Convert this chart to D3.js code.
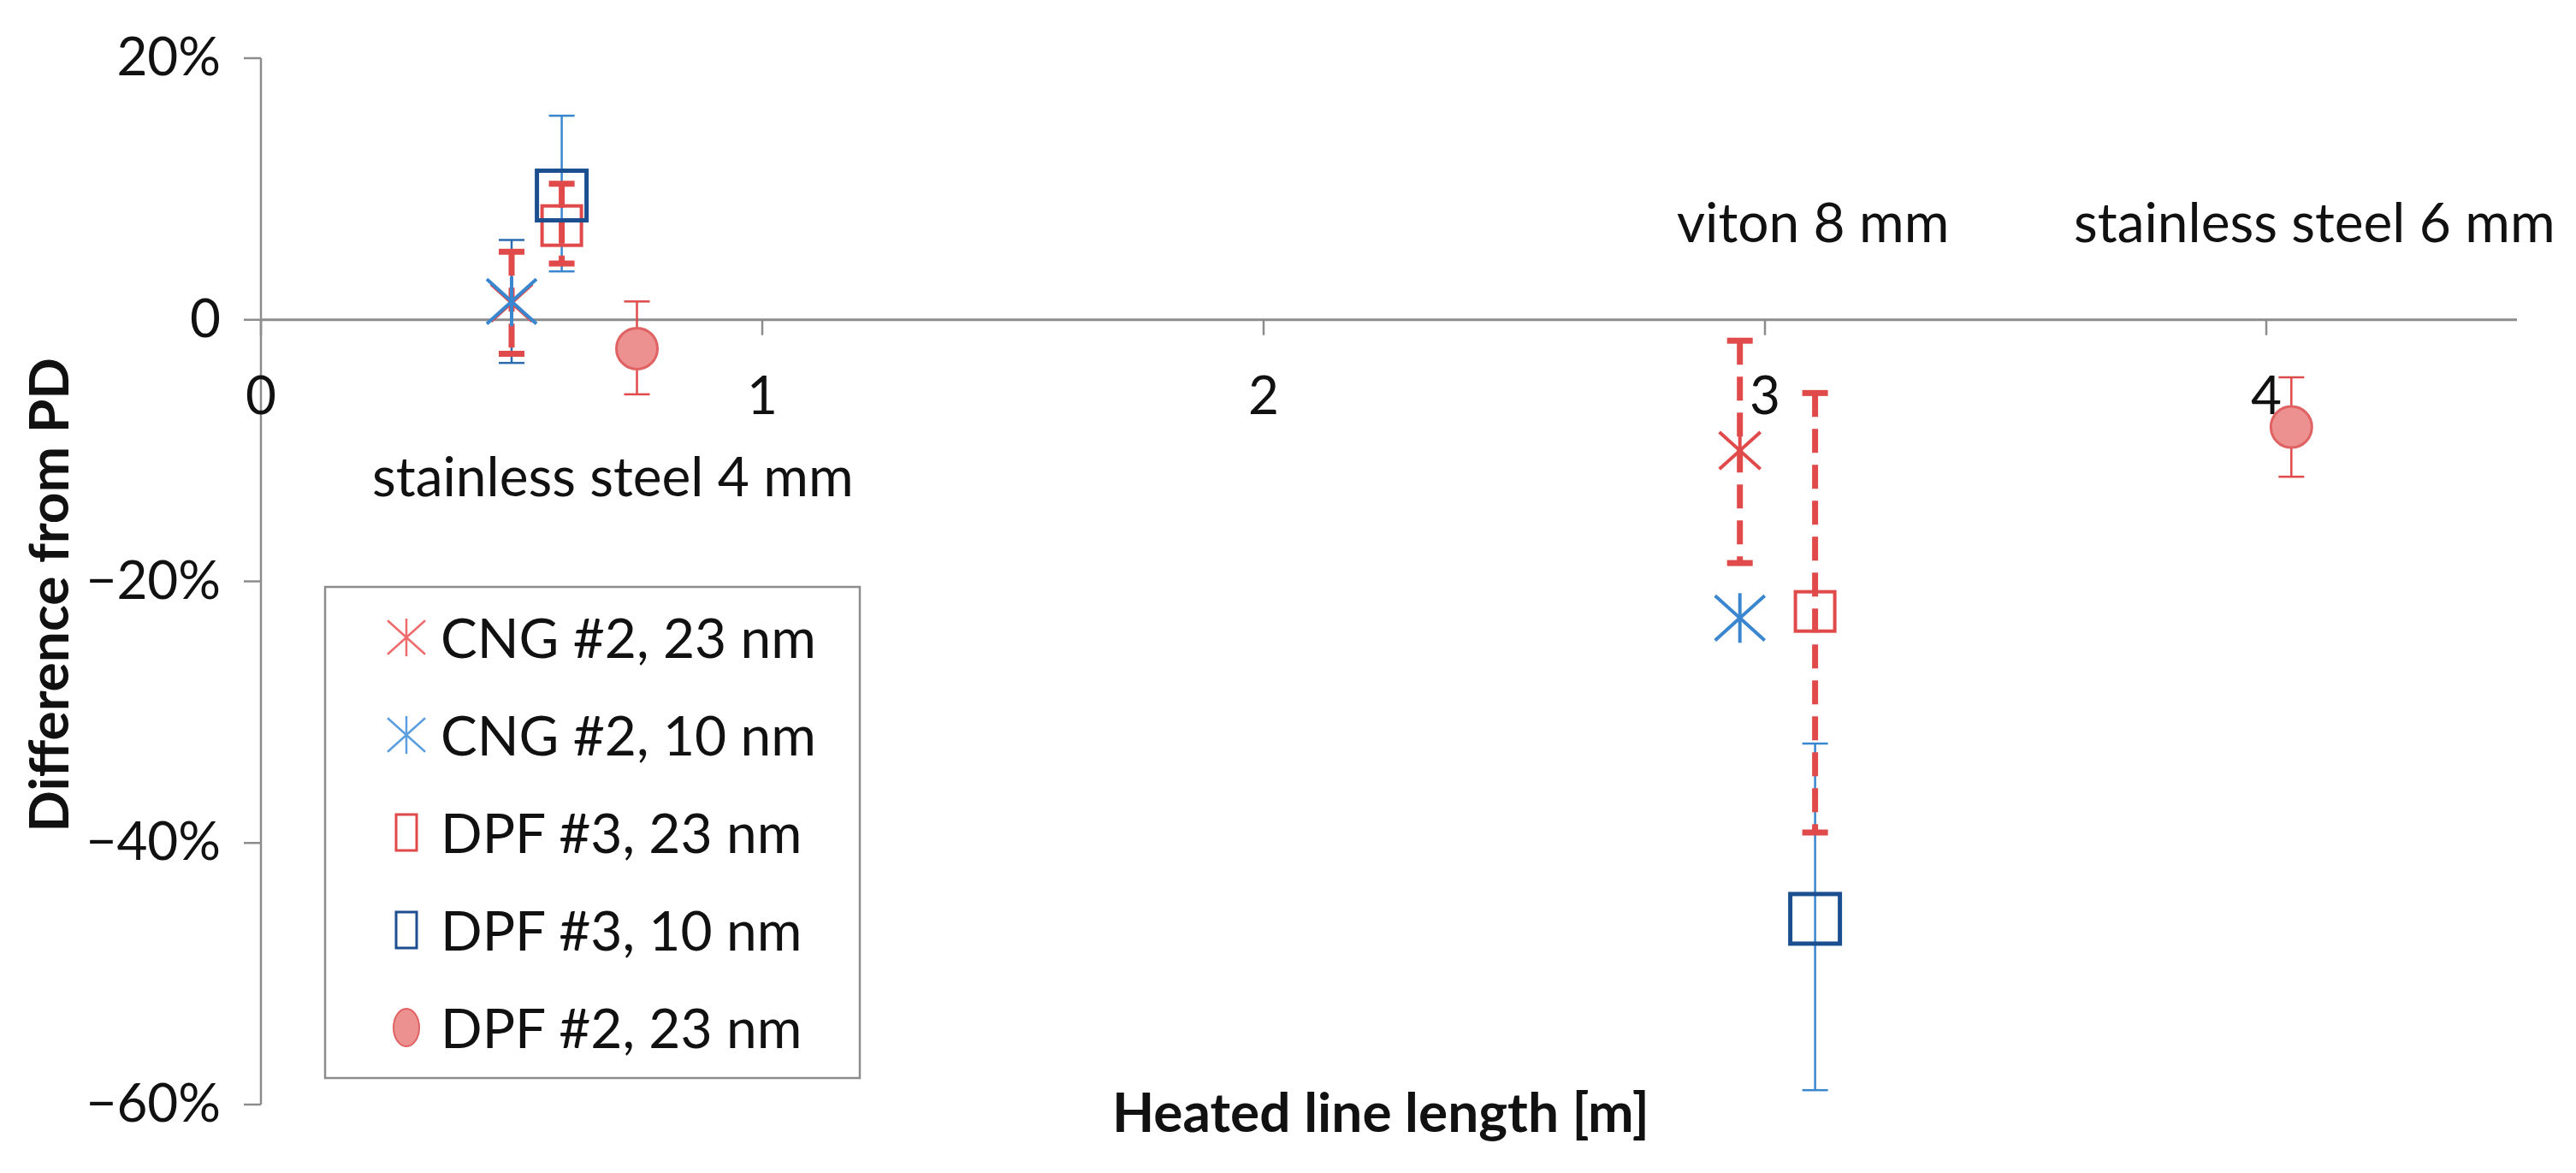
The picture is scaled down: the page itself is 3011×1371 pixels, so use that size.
<!DOCTYPE html>
<html>
<head>
<meta charset="utf-8">
<script src="https://cdn.jsdelivr.net/npm/d3@7"></script>
<style>
  body { margin: 0; background: #fff; }
  text { font-family: Lato, "Open Sans", sans-serif; }
</style>
</head>
<body>
<svg id="chart" width="3011" height="1371"></svg>
<script>
// series: [x, y(%), errTop(%), errBottom(%)]
const seriesNames = ['CNG #2, 23 nm', 'CNG #2, 10 nm', 'DPF #3, 23 nm', 'DPF #3, 10 nm', 'DPF #2, 23 nm'];
const cng23 = [[0.50, 1.3, 5.2, -2.6], [2.95, -10.0, -1.6, -18.6]];
const cng10 = [[0.50, 1.4, 6.1, -3.3], [2.95, -22.8, -22.8, -22.8]];
const dpf3_23 = [[0.60, 7.2, 10.4, 4.3], [3.10, -22.3, -5.6, -39.2]];
const dpf3_10 = [[0.60, 9.5, 15.6, 3.7], [3.10, -45.8, -32.4, -58.9]];
const dpf2_23 = [[0.75, -2.2, 1.4, -5.7], [4.05, -8.2, -4.4, -12.0]];
const xTicks = [0, 1, 2, 3, 4];
const yTicks = [20, 0, -20, -40, -60];
const notes = [
  { text: 'stainless steel 4 mm', x: 435, y: 580 },
  { text: 'viton 8 mm', x: 1960, y: 283 },
  { text: 'stainless steel 6 mm', x: 2424, y: 283 }
];

const svg = d3.select('#chart');
const x = d3.scaleLinear().domain([0, 4.5]).range([305, 2942]);
const y = d3.scaleLinear().domain([-60, 20]).range([1291, 68]);
const axisColor = '#8c8c8c';

const red = '#e04a4a', blue = '#3a86cf', navy = '#1c4f8f';

// y axis
svg.append('line').attr('x1', x(0)).attr('x2', x(0)).attr('y1', y(20)).attr('y2', y(-60))
  .attr('stroke', axisColor).attr('stroke-width', 2.5);
yTicks.forEach(t => {
  svg.append('line').attr('x1', x(0) - 20).attr('x2', x(0)).attr('y1', y(t)).attr('y2', y(t))
    .attr('stroke', axisColor).attr('stroke-width', 2.5);
  svg.append('text').attr('x', 258).attr('y', y(t) + 20).attr('text-anchor', 'end')
    .attr('font-size', 62).attr('fill', '#111')
    .text(t === 0 ? '0' : (t < 0 ? '\u2212' + (-t) : t) + '%');
});
// x axis at 0
svg.append('line').attr('x1', x(0)).attr('x2', x(4.5)).attr('y1', y(0)).attr('y2', y(0))
  .attr('stroke', axisColor).attr('stroke-width', 3);
xTicks.forEach(t => {
  svg.append('line').attr('x1', x(t)).attr('x2', x(t)).attr('y1', y(0)).attr('y2', y(0) + 18)
    .attr('stroke', axisColor).attr('stroke-width', 2.5);
  svg.append('text').attr('x', x(t)).attr('y', 484).attr('text-anchor', 'middle')
    .attr('font-size', 62).attr('fill', '#111').text(t);
});

// axis titles
svg.append('text').attr('x', 1300).attr('y', 1323)
  .attr('font-size', 64).attr('font-weight', 'bold').attr('fill', '#111').text('Heated line length [m]');
svg.append('text').attr('transform', 'translate(80,418) rotate(-90)').attr('text-anchor', 'end')
  .attr('font-size', 64).attr('font-weight', 'bold').attr('fill', '#111').text('Difference from PD');

notes.forEach(n => svg.append('text').attr('x', n.x).attr('y', n.y)
  .attr('font-size', 64).attr('fill', '#111').text(n.text));

// error bars
function errBars(data, color, width, dashed) {
  data.forEach(d => {
    if (d[2] === d[3]) return;
    const g = svg.append('g').attr('stroke', color).attr('stroke-width', width);
    const l = g.append('line').attr('x1', x(d[0])).attr('x2', x(d[0])).attr('y1', y(d[2])).attr('y2', y(d[3]));
    if (dashed) l.attr('stroke-dasharray', '28,14');
    [d[2], d[3]].forEach(v => g.append('line').attr('x1', x(d[0]) - 15).attr('x2', x(d[0]) + 15)
      .attr('y1', y(v)).attr('y2', y(v)));
  });
}

// markers
function drawStar(g, cx, cy, s, color, w) {
  const h = s / 2;
  g.append('line').attr('x1', cx - h).attr('y1', cy - h * 0.9).attr('x2', cx + h).attr('y2', cy + h * 0.9);
  g.append('line').attr('x1', cx - h).attr('y1', cy + h * 0.9).attr('x2', cx + h).attr('y2', cy - h * 0.9);
  g.append('line').attr('x1', cx).attr('y1', cy - h).attr('x2', cx).attr('y2', cy + h);
  g.attr('stroke', color).attr('stroke-width', w).attr('fill', 'none');
}

errBars(dpf2_23, red, 2.5, false);
errBars(dpf3_10, blue, 2.5, false);
errBars(cng10, '#2b6cb0', 2.5, false);
errBars(dpf3_23, red, 7, true);
errBars(cng23, red, 7, true);

dpf2_23.forEach(d => svg.append('circle').attr('cx', x(d[0])).attr('cy', y(d[1])).attr('r', 24)
  .attr('fill', '#ec9090').attr('stroke', '#e06262').attr('stroke-width', 3));
cng23.forEach(d => drawStar(svg.append('g'), x(d[0]), y(d[1]), 48, red, 4));
dpf3_23.forEach(d => svg.append('rect').attr('x', x(d[0]) - 23).attr('y', y(d[1]) - 23)
  .attr('width', 46).attr('height', 46).attr('fill', 'none').attr('stroke', red).attr('stroke-width', 4));
cng10.forEach(d => drawStar(svg.append('g'), x(d[0]), y(d[1]), 58, blue, 4));
dpf3_10.forEach(d => svg.append('rect').attr('x', x(d[0]) - 29).attr('y', y(d[1]) - 29)
  .attr('width', 58).attr('height', 58).attr('fill', 'none').attr('stroke', navy).attr('stroke-width', 5));

// legend
const leg = svg.append('g');
leg.append('rect').attr('x', 380).attr('y', 686).attr('width', 625).attr('height', 574)
  .attr('fill', '#fff').attr('stroke', axisColor).attr('stroke-width', 2.5);
const legColors = ['#ef6a6a', '#5a9ee0', red, navy, '#ec9090'];
seriesNames.forEach((name, i) => {
  const cy = 745 + i * 114;
  const m = leg.append('g');
  if (i < 2) drawStar(m, 475, cy, 44, legColors[i], 2.5);
  else if (i < 4) m.append('rect').attr('x', 463).attr('y', cy - 21).attr('width', 24).attr('height', 42)
    .attr('fill', 'none').attr('stroke', legColors[i]).attr('stroke-width', 3);
  else m.append('ellipse').attr('cx', 475).attr('cy', cy).attr('rx', 15).attr('ry', 22)
    .attr('fill', '#ec9090').attr('stroke', '#e06262').attr('stroke-width', 2);
  leg.append('text').attr('x', 515).attr('y', cy + 24).attr('font-size', 64).attr('fill', '#111').text(name);
});
</script>
</body>
</html>
